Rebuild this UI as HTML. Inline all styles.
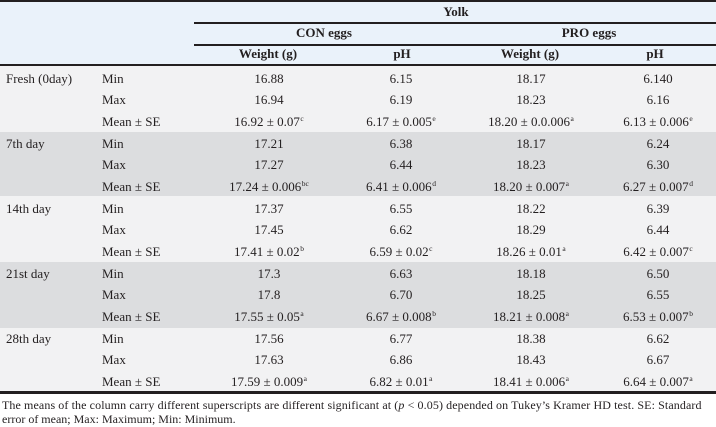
<!DOCTYPE html>
<html><head><meta charset="utf-8">
<style>
html,body{margin:0;padding:0;}
body{width:716px;height:427px;position:relative;overflow:hidden;background:#fff;font-family:"Liberation Serif","Times New Roman",serif;color:#231f20;}
.a{position:absolute;}
.bar{position:absolute;background:#231f20;}
.t{position:absolute;font-size:13px;line-height:20px;white-space:nowrap;}
.c{text-align:center;width:160px;}
.b{font-weight:bold;}
sup{font-size:7.5px;vertical-align:0;position:relative;top:-5px;line-height:0;margin-left:0.5px;}
.fn{position:absolute;left:2px;font-size:12px;line-height:14px;white-space:nowrap;}
</style></head><body>
<!-- backgrounds -->
<div class="a" style="left:0;top:0;width:716px;height:65px;background:#eaf2fa;"></div>
<div class="a" style="left:0;top:65px;width:716px;height:67px;background:#f2f2f3;"></div>
<div class="a" style="left:0;top:132px;width:716px;height:64px;background:#dcdddf;"></div>
<div class="a" style="left:0;top:196px;width:716px;height:66px;background:#f2f2f3;"></div>
<div class="a" style="left:0;top:262px;width:716px;height:66px;background:#dcdddf;"></div>
<div class="a" style="left:0;top:328px;width:716px;height:64px;background:#f2f2f3;"></div>
<!-- rules -->
<div class="bar" style="left:0;top:0;width:716px;height:2px;"></div>
<div class="bar" style="left:194px;top:22px;width:522px;height:2px;"></div>
<div class="bar" style="left:194px;top:44px;width:522px;height:2px;"></div>
<div class="bar" style="left:0;top:64px;width:716px;height:2px;"></div>
<div class="bar" style="left:0;top:391px;width:716px;height:3px;"></div>
<!-- header -->
<div class="t c b" style="left:376px;top:2px;">Yolk</div>
<div class="t c b" style="left:244px;top:23px;">CON eggs</div>
<div class="t c b" style="left:509px;top:23px;">PRO eggs</div>
<div class="t c b" style="left:188px;top:44px;">Weight (g)</div>
<div class="t c b" style="left:322px;top:44px;">pH</div>
<div class="t c b" style="left:450px;top:44px;">Weight (g)</div>
<div class="t c b" style="left:575px;top:44px;">pH</div>

<!-- group labels -->
<div class="t" style="left:6px;top:68.6px;">Fresh (0day)</div>
<div class="t" style="left:6px;top:133.6px;">7th day</div>
<div class="t" style="left:6px;top:198.6px;">14th day</div>
<div class="t" style="left:6px;top:263.7px;">21st day</div>
<div class="t" style="left:6px;top:328.7px;">28th day</div>

<!-- Fresh -->
<div class="t" style="left:102px;top:68.6px;">Min</div>
<div class="t c" style="left:189px;top:68.6px;">16.88</div>
<div class="t c" style="left:321px;top:68.6px;">6.15</div>
<div class="t c" style="left:451px;top:68.6px;">18.17</div>
<div class="t c" style="left:578px;top:68.6px;">6.140</div>

<div class="t" style="left:102px;top:90.3px;">Max</div>
<div class="t c" style="left:189px;top:90.3px;">16.94</div>
<div class="t c" style="left:321px;top:90.3px;">6.19</div>
<div class="t c" style="left:451px;top:90.3px;">18.23</div>
<div class="t c" style="left:578px;top:90.3px;">6.16</div>

<div class="t" style="left:102px;top:112px;">Mean ± SE</div>
<div class="t c" style="left:189px;top:112px;">16.92 ± 0.07<sup>c</sup></div>
<div class="t c" style="left:321px;top:112px;">6.17 ± 0.005<sup>e</sup></div>
<div class="t c" style="left:451px;top:112px;">18.20 ± 0.0.006<sup>a</sup></div>
<div class="t c" style="left:578px;top:112px;">6.13 ± 0.006<sup>e</sup></div>

<!-- 7th -->
<div class="t" style="left:102px;top:133.6px;">Min</div>
<div class="t c" style="left:189px;top:133.6px;">17.21</div>
<div class="t c" style="left:321px;top:133.6px;">6.38</div>
<div class="t c" style="left:451px;top:133.6px;">18.17</div>
<div class="t c" style="left:578px;top:133.6px;">6.24</div>

<div class="t" style="left:102px;top:155.3px;">Max</div>
<div class="t c" style="left:189px;top:155.3px;">17.27</div>
<div class="t c" style="left:321px;top:155.3px;">6.44</div>
<div class="t c" style="left:451px;top:155.3px;">18.23</div>
<div class="t c" style="left:578px;top:155.3px;">6.30</div>

<div class="t" style="left:102px;top:177px;">Mean ± SE</div>
<div class="t c" style="left:189px;top:177px;">17.24 ± 0.006<sup>bc</sup></div>
<div class="t c" style="left:321px;top:177px;">6.41 ± 0.006<sup>d</sup></div>
<div class="t c" style="left:451px;top:177px;">18.20 ± 0.007<sup>a</sup></div>
<div class="t c" style="left:578px;top:177px;">6.27 ± 0.007<sup>d</sup></div>

<!-- 14th -->
<div class="t" style="left:102px;top:198.6px;">Min</div>
<div class="t c" style="left:189px;top:198.6px;">17.37</div>
<div class="t c" style="left:321px;top:198.6px;">6.55</div>
<div class="t c" style="left:451px;top:198.6px;">18.22</div>
<div class="t c" style="left:578px;top:198.6px;">6.39</div>

<div class="t" style="left:102px;top:220.3px;">Max</div>
<div class="t c" style="left:189px;top:220.3px;">17.45</div>
<div class="t c" style="left:321px;top:220.3px;">6.62</div>
<div class="t c" style="left:451px;top:220.3px;">18.29</div>
<div class="t c" style="left:578px;top:220.3px;">6.44</div>

<div class="t" style="left:102px;top:242px;">Mean ± SE</div>
<div class="t c" style="left:189px;top:242px;">17.41 ± 0.02<sup>b</sup></div>
<div class="t c" style="left:321px;top:242px;">6.59 ± 0.02<sup>c</sup></div>
<div class="t c" style="left:451px;top:242px;">18.26 ± 0.01<sup>a</sup></div>
<div class="t c" style="left:578px;top:242px;">6.42 ± 0.007<sup>c</sup></div>

<!-- 21st -->
<div class="t" style="left:102px;top:263.7px;">Min</div>
<div class="t c" style="left:189px;top:263.7px;">17.3</div>
<div class="t c" style="left:321px;top:263.7px;">6.63</div>
<div class="t c" style="left:451px;top:263.7px;">18.18</div>
<div class="t c" style="left:578px;top:263.7px;">6.50</div>

<div class="t" style="left:102px;top:285.4px;">Max</div>
<div class="t c" style="left:189px;top:285.4px;">17.8</div>
<div class="t c" style="left:321px;top:285.4px;">6.70</div>
<div class="t c" style="left:451px;top:285.4px;">18.25</div>
<div class="t c" style="left:578px;top:285.4px;">6.55</div>

<div class="t" style="left:102px;top:307px;">Mean ± SE</div>
<div class="t c" style="left:189px;top:307px;">17.55 ± 0.05<sup>a</sup></div>
<div class="t c" style="left:321px;top:307px;">6.67 ± 0.008<sup>b</sup></div>
<div class="t c" style="left:451px;top:307px;">18.21 ± 0.008<sup>a</sup></div>
<div class="t c" style="left:578px;top:307px;">6.53 ± 0.007<sup>b</sup></div>

<!-- 28th -->
<div class="t" style="left:102px;top:328.7px;">Min</div>
<div class="t c" style="left:189px;top:328.7px;">17.56</div>
<div class="t c" style="left:321px;top:328.7px;">6.77</div>
<div class="t c" style="left:451px;top:328.7px;">18.38</div>
<div class="t c" style="left:578px;top:328.7px;">6.62</div>

<div class="t" style="left:102px;top:350.4px;">Max</div>
<div class="t c" style="left:189px;top:350.4px;">17.63</div>
<div class="t c" style="left:321px;top:350.4px;">6.86</div>
<div class="t c" style="left:451px;top:350.4px;">18.43</div>
<div class="t c" style="left:578px;top:350.4px;">6.67</div>

<div class="t" style="left:102px;top:372.1px;">Mean ± SE</div>
<div class="t c" style="left:189px;top:372.1px;">17.59 ± 0.009<sup>a</sup></div>
<div class="t c" style="left:321px;top:372.1px;">6.82 ± 0.01<sup>a</sup></div>
<div class="t c" style="left:451px;top:372.1px;">18.41 ± 0.006<sup>a</sup></div>
<div class="t c" style="left:578px;top:372.1px;">6.64 ± 0.007<sup>a</sup></div>

<!-- footnote -->
<div class="fn" style="top:398px;letter-spacing:0.1px;">The means of the column carry different superscripts are different significant at (<i>p</i> &lt; 0.05) depended on Tukey’s Kramer HD test. SE: Standard</div>
<div class="fn" style="top:412px;">error of mean; Max: Maximum; Min: Minimum.</div>
</body></html>
